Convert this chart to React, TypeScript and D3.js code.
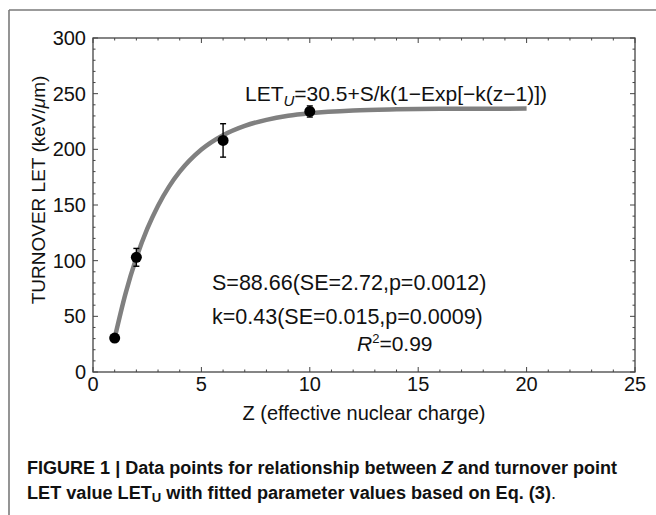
import React from "react";
import * as d3 from "d3";

const pointZ = [1, 2, 6, 10];
const pointLET = [30.5, 103, 208, 234];
const pointErr = [0, 8, 15, 5];

const curveZ = [1, 1.5, 2, 2.5, 3, 3.5, 4, 5, 6, 7, 8, 9, 10, 12, 14, 16, 18, 20];
const curveLET = [30.5, 70.4, 102.6, 128.5, 149.4, 166.3, 179.9, 199.8, 212.7, 221.1, 226.5, 230.1, 232.4, 234.9, 235.9, 236.4, 236.5, 236.6];

const xTicks = [0, 5, 10, 15, 20, 25];
const yTicks = [0, 50, 100, 150, 200, 250, 300];

const FONT = "Liberation Sans, Arial, sans-serif";

export default function App() {
  const W = 656, H = 515;
  const left = 93, right = 635, top = 38, bottom = 372;
  const x = d3.scaleLinear().domain([0, 25]).range([left, right]);
  const y = d3.scaleLinear().domain([0, 300]).range([bottom, top]);

  const minorX = d3.range(0, 25.001, 1);
  const minorY = d3.range(0, 300.001, 10);

  const line = d3
    .line<number>()
    .x((_, i) => x(curveZ[i]))
    .y((d) => y(d))
    .curve(d3.curveMonotoneX);

  const axisColor = "#444";
  const txt = "#111";

  return (
    <svg width={W} height={H} style={{ position: "absolute", left: 0, top: 0 }}>
      <rect x={0} y={0} width={W} height={H} fill="#fff" />
      {/* outer frame */}
      <line x1={9} y1={10} x2={W} y2={10} stroke="#7a7a7a" strokeWidth={1.6} />
      <line x1={9} y1={10} x2={9} y2={H} stroke="#7a7a7a" strokeWidth={1.6} />

      {/* plot frame */}
      <rect x={left} y={top} width={right - left} height={bottom - top} fill="none" stroke={axisColor} strokeWidth={1.3} />

      {/* ticks */}
      {minorX.map((v) => {
        const major = v % 5 === 0;
        const len = major ? 5 : 2.5;
        return (
          <g key={"x" + v}>
            <line x1={x(v)} x2={x(v)} y1={bottom} y2={bottom - len} stroke={axisColor} strokeWidth={1} />
            <line x1={x(v)} x2={x(v)} y1={top} y2={top + len} stroke={axisColor} strokeWidth={1} />
          </g>
        );
      })}
      {minorY.map((v) => {
        const major = v % 50 === 0;
        const len = major ? 5 : 2.5;
        return (
          <g key={"y" + v}>
            <line x1={left} x2={left + len} y1={y(v)} y2={y(v)} stroke={axisColor} strokeWidth={1} />
            <line x1={right} x2={right - len} y1={y(v)} y2={y(v)} stroke={axisColor} strokeWidth={1} />
          </g>
        );
      })}

      {/* tick labels */}
      {xTicks.map((v) => (
        <text key={"xl" + v} x={x(v)} y={bottom + 19} textAnchor="middle" fontFamily={FONT} fontSize={20} fill={txt}>
          {v}
        </text>
      ))}
      {yTicks.map((v) => (
        <text key={"yl" + v} x={left - 7} y={y(v) + 7} textAnchor="end" fontFamily={FONT} fontSize={20} fill={txt}>
          {v}
        </text>
      ))}

      {/* axis labels */}
      <text x={364} y={420} textAnchor="middle" fontFamily={FONT} fontSize={20} fill={txt}>
        Z (effective nuclear charge)
      </text>
      <text
        transform={`translate(45, 190) rotate(-90)`}
        textAnchor="middle"
        fontFamily={FONT}
        fontSize={19}
        fill={txt}
      >
        TURNOVER LET (keV/<tspan fontStyle="italic">μ</tspan>m)
      </text>

      {/* fitted curve */}
      <path d={line(curveLET) || ""} fill="none" stroke="#808080" strokeWidth={4.5} strokeLinecap="butt" />

      {/* error bars and points */}
      {pointZ.map((z, i) => {
        const cx = x(z);
        const e = pointErr[i];
        return (
          <g key={"p" + i}>
            {e > 0 && (
              <g stroke="#000" strokeWidth={1.4}>
                <line x1={cx} x2={cx} y1={y(pointLET[i] + e)} y2={y(pointLET[i] - e)} />
                <line x1={cx - 3} x2={cx + 3} y1={y(pointLET[i] + e)} y2={y(pointLET[i] + e)} />
                <line x1={cx - 3} x2={cx + 3} y1={y(pointLET[i] - e)} y2={y(pointLET[i] - e)} />
              </g>
            )}
            <circle cx={cx} cy={y(pointLET[i])} r={5.5} fill="#000" />
          </g>
        );
      })}

      {/* annotations */}
      <text x={245} y={101} fontFamily={FONT} fontSize={21} fill={txt}>
        LET<tspan fontStyle="italic" fontSize={15} dy={5}>U</tspan>
        <tspan dy={-5}>=30.5+S/k(1−Exp[−k(z−1)])</tspan>
      </text>
      <text x={212} y={290} fontFamily={FONT} fontSize={21.5} fill={txt}>
        S=88.66(SE=2.72,p=0.0012)
      </text>
      <text x={212} y={324} fontFamily={FONT} fontSize={21.5} fill={txt}>
        k=0.43(SE=0.015,p=0.0009)
      </text>
      <text x={357} y={351} fontFamily={FONT} fontSize={21} fill={txt}>
        <tspan fontStyle="italic">R</tspan>
        <tspan fontSize={13} dy={-8}>2</tspan>
        <tspan dy={8}>=0.99</tspan>
      </text>

      {/* caption */}
      <text x={27} y={474} fontFamily={FONT} fontSize={18} fontWeight="bold" fill={txt} textLength={590} lengthAdjust="spacingAndGlyphs">
        FIGURE 1 | Data points for relationship between <tspan fontStyle="italic">Z</tspan> and turnover point
      </text>
      <text x={27} y={499} fontFamily={FONT} fontSize={18} fill={txt} fontWeight="bold" textLength={529} lengthAdjust="spacingAndGlyphs">
        LET value LET<tspan fontSize={13} dy={3}>U</tspan>
        <tspan dy={-3}> with fitted parameter values based on Eq. (3)</tspan>
        <tspan fontWeight="normal">.</tspan>
      </text>
    </svg>
  );
}
